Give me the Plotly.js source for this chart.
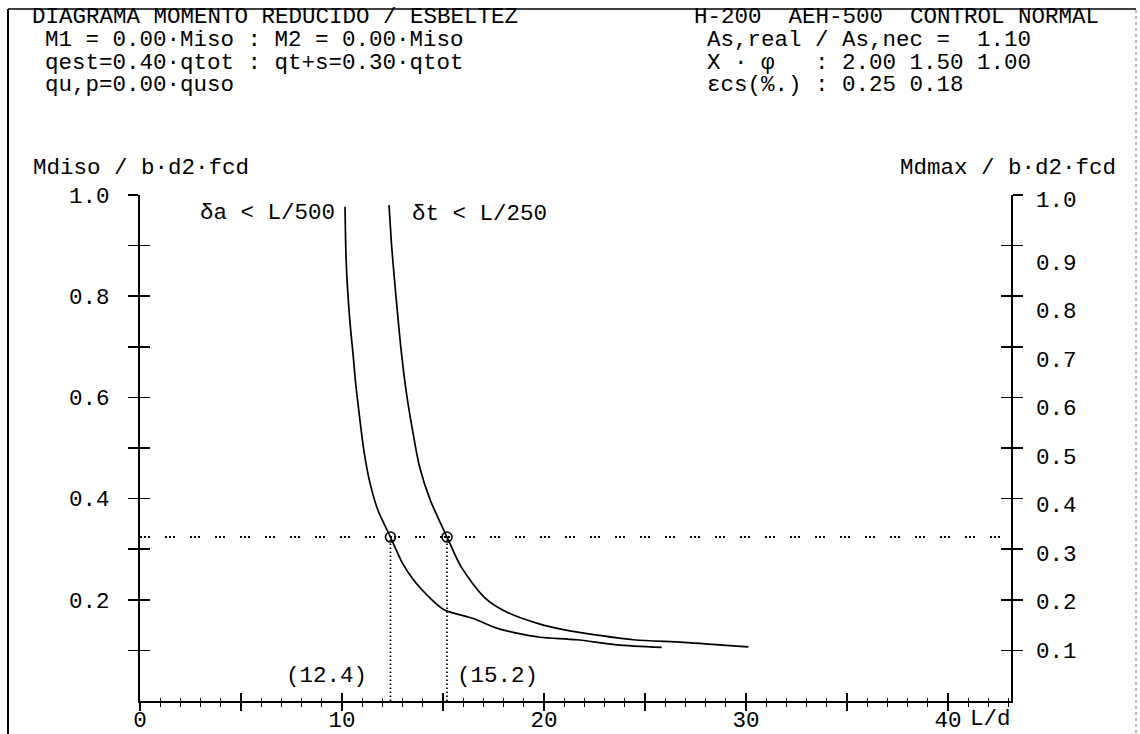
<!DOCTYPE html>
<html>
<head>
<meta charset="utf-8">
<script src="https://cdn.plot.ly/plotly-3.0.1.min.js"></script>
<style>html,body{margin:0;padding:0;background:#fff;}#chart{width:1140px;height:734px;}</style>
</head>
<body>
<div id="chart"></div>
<script>
// ---- data ----
const slendA  = [10.15, 10.20, 10.28, 10.36, 10.43, 10.56, 10.66, 10.77, 11.08, 11.39, 11.78, 12.4, 13.0, 13.6, 14.22, 15.03, 16.50, 17.66, 18.65, 19.80, 21.62, 23.60, 25.83];
const momentA = [0.977, 0.878, 0.812, 0.766, 0.733, 0.680, 0.634, 0.595, 0.496, 0.430, 0.377, 0.324, 0.272, 0.236, 0.209, 0.181, 0.163, 0.144, 0.134, 0.126, 0.121, 0.111, 0.106];
const slendT  = [12.33, 12.46, 12.60, 12.75, 12.91, 13.08, 13.24, 13.52, 13.84, 14.37, 15.2, 15.90, 17.10, 18.20, 19.80, 20.96, 21.67, 24.42, 26.90, 30.12];
const momentT = [0.980, 0.898, 0.832, 0.766, 0.700, 0.641, 0.595, 0.529, 0.463, 0.397, 0.324, 0.265, 0.203, 0.175, 0.152, 0.141, 0.136, 0.121, 0.116, 0.107];
const targetMoment = 0.324;
const intersections = [12.4, 15.2];
const intersectionLabels = ['(12.4)', '(15.2)'];
const curveLabels = ['δa < L/500', 'δt < L/250'];
const xRange = [0, 43.12];
const xMajorTicks = [0, 5, 10, 15, 20, 25, 30, 35, 40];
const xMajorText  = ['0', '', '10', '', '20', '', '30', '', '40'];
const yTicks     = [0.1, 0.2, 0.3, 0.4, 0.5, 0.6, 0.7, 0.8, 0.9, 1.0];
const yLeftText  = ['', '0.2', '', '0.4', '', '0.6', '', '0.8', '', '1.0'];
const yRightVals = [0.1, 0.2, 0.3, 0.4, 0.5, 0.6, 0.7, 0.8, 0.9];
const yRightText = ['0.1', '0.2', '0.3', '0.4', '0.5', '0.6', '0.7', '0.8', '0.9'];
const headerLeft  = ['DIAGRAMA MOMENTO REDUCIDO / ESBELTEZ', 'M1 = 0.00·Miso : M2 = 0.00·Miso', 'qest=0.40·qtot : qt+s=0.30·qtot', 'qu,p=0.00·quso'];
const headerRight = ['H-200  AEH-500  CONTROL NORMAL', 'As,real / As,nec =  1.10', 'X · φ   : 2.00 1.50 1.00', 'εcs(%.) : 0.25 0.18'];
const yLeftTitle = 'Mdiso / b·d2·fcd';
const yRightTitle = 'Mdmax / b·d2·fcd';
const xTitle = 'L/d';

// ---- layout geometry ----
const W = 1140, H = 734;
const M = {l: 140, r: 129, t: 195, b: 33};
const PW = W - M.l - M.r, PH = H - M.t - M.b;
const px = x => (x - M.l) / PW;          // pixel -> paper x
const py = y => (H - M.b - y) / PH;      // pixel -> paper y
const FONT = '"Liberation Mono", "DejaVu Sans Mono", monospace';
const FS = 22.5;
const f = (s) => ({family: FONT, size: s || FS, color: '#000'});

// the right-hand labels of the original sit on a slightly compressed scale
const rLo = 0.1 - (H - M.b - 650) / 485.4;
const rHi = 0.1 + (650 - M.t) / 485.4;

const traces = [
  {x: slendA, y: momentA, mode: 'lines', line: {color: '#000', width: 1.7, shape: 'spline', smoothing: 0.8}, hoverinfo: 'skip'},
  {x: slendT, y: momentT, mode: 'lines', line: {color: '#000', width: 1.7, shape: 'spline', smoothing: 0.8}, hoverinfo: 'skip'},
  {x: [xRange[0], xRange[1]], y: [targetMoment, targetMoment], mode: 'lines',
   line: {color: '#000', width: 2, dash: '2px,2px,2px,2px,2px,15px'}, hoverinfo: 'skip'},
  {x: [intersections[0], intersections[0]], y: [0, targetMoment], mode: 'lines',
   line: {color: '#000', width: 1.7, dash: '1.5px,2.5px'}, hoverinfo: 'skip'},
  {x: [intersections[1], intersections[1]], y: [0, targetMoment], mode: 'lines',
   line: {color: '#000', width: 1.7, dash: '1.5px,2.5px'}, hoverinfo: 'skip'},
  {x: intersections, y: [targetMoment, targetMoment], mode: 'markers',
   marker: {symbol: 'circle-open', size: 10, color: '#000', line: {width: 1.6, color: '#000'}}, hoverinfo: 'skip'},
  // helper traces that make the overlay axes exist
  {x: [null], y: [null], xaxis: 'x2', yaxis: 'y', mode: 'markers', hoverinfo: 'skip'},
  {x: [null], y: [null], xaxis: 'x', yaxis: 'y3', mode: 'markers', hoverinfo: 'skip'},
  {x: [null], y: [null], xaxis: 'x', yaxis: 'y2', mode: 'markers', hoverinfo: 'skip'},
  {x: [null], y: [null], xaxis: 'x', yaxis: 'y4', mode: 'markers', hoverinfo: 'skip'}
];

const annotations = [];
const hdr = (t, x, y) => ({text: t, xref: 'paper', yref: 'paper', x: px(x), y: py(y),
  xanchor: 'left', yanchor: 'middle', showarrow: false, font: f(), height: 22, borderpad: 0, valign: 'middle'});
const rowsY = [17, 40, 62.5, 85];
headerLeft.forEach((t, i) => annotations.push(hdr(t, i === 0 ? 31 : 44, rowsY[i])));
headerRight.forEach((t, i) => annotations.push(hdr(t, i === 0 ? 693 : 706, rowsY[i])));
annotations.push({text: yLeftTitle, xref: 'paper', yref: 'paper', x: px(31), y: py(168),
  xanchor: 'left', yanchor: 'middle', showarrow: false, font: f()});
annotations.push({text: yRightTitle, xref: 'paper', yref: 'paper', x: px(1118), y: py(168),
  xanchor: 'right', yanchor: 'middle', showarrow: false, font: f()});
annotations.push({text: xTitle, xref: 'paper', yref: 'paper', x: px(968), y: py(719),
  xanchor: 'left', yanchor: 'middle', showarrow: false, font: f()});
annotations.push({text: curveLabels[0], xref: 'x', yref: 'paper', x: slendA[0], xshift: -8, y: py(213),
  xanchor: 'right', yanchor: 'middle', showarrow: false, font: f()});
annotations.push({text: curveLabels[1], xref: 'x', yref: 'paper', x: slendT[0], xshift: 21, y: py(214),
  xanchor: 'left', yanchor: 'middle', showarrow: false, font: f()});
annotations.push({text: intersectionLabels[0], xref: 'x', yref: 'paper', x: intersections[0], xshift: -21, y: py(676),
  xanchor: 'right', yanchor: 'middle', showarrow: false, font: f()});
annotations.push({text: intersectionLabels[1], xref: 'x', yref: 'paper', x: intersections[1], xshift: 8, y: py(676),
  xanchor: 'left', yanchor: 'middle', showarrow: false, font: f()});

const shapes = [
  {type: 'line', xref: 'paper', yref: 'paper', x0: px(8), x1: px(8), y0: py(745), y1: py(9), line: {color: '#000', width: 2}},
  {type: 'line', xref: 'paper', yref: 'paper', x0: px(8), x1: px(1136), y0: py(9), y1: py(9), line: {color: '#000', width: 1.5}},
  {type: 'line', xref: 'paper', yref: 'paper', x0: px(1136), x1: px(1136), y0: py(745), y1: py(9), line: {color: '#777', width: 1, dash: 'dot'}}
];

const axBase = {showgrid: false, zeroline: false, fixedrange: true};
const layout = {
  width: W, height: H, margin: M, paper_bgcolor: '#fff', plot_bgcolor: '#fff',
  showlegend: false, font: f(),
  xaxis: Object.assign({}, axBase, {
    range: xRange, showline: true, linecolor: '#000', linewidth: 2,
    tickmode: 'array', tickvals: xMajorTicks, ticktext: xMajorText,
    ticks: 'outside', ticklen: 8, tickwidth: 1.5, tickcolor: '#000', tickfont: f(), ticklabelstandoff: -11,
    minor: {tick0: 0, dtick: 1, ticks: 'outside', ticklen: 4, tickwidth: 1, tickcolor: '#000'}
  }),
  xaxis2: Object.assign({}, axBase, {
    range: xRange, overlaying: 'x', anchor: 'y', side: 'bottom', showline: false,
    tickmode: 'array', tickvals: xMajorTicks, ticks: 'inside', ticklen: 8, tickwidth: 1.5, tickcolor: '#000',
    showticklabels: false,
    minor: {tick0: 0, dtick: 1, ticks: 'inside', ticklen: 3, tickwidth: 1, tickcolor: '#000'}
  }),
  yaxis: Object.assign({}, axBase, {
    range: [0, 1], showline: true, linecolor: '#000', linewidth: 2, mirror: 'ticks',
    tickmode: 'array', tickvals: yTicks, ticktext: yLeftText,
    ticks: 'outside', ticklen: 10, tickwidth: 1.5, tickcolor: '#000', tickfont: f(), ticklabelstandoff: 14
  }),
  yaxis3: Object.assign({}, axBase, {
    range: [0, 1], overlaying: 'y', anchor: 'x', side: 'left', showline: true, linecolor: '#000', linewidth: 2, mirror: 'ticks',
    tickmode: 'array', tickvals: yTicks, ticks: 'inside', ticklen: 10, tickwidth: 1.5, tickcolor: '#000',
    showticklabels: false
  }),
  yaxis2: Object.assign({}, axBase, {
    range: [rLo, rHi], overlaying: 'y', anchor: 'x', side: 'right', showline: false,
    tickmode: 'array', tickvals: yRightVals, ticktext: yRightText, ticks: '',
    tickfont: f(), ticklabelstandoff: 24
  }),
  yaxis4: Object.assign({}, axBase, {
    range: [0, 1], overlaying: 'y', anchor: 'x', side: 'right', showline: false,
    tickmode: 'array', tickvals: [1.0], ticktext: ['1.0'], ticks: '',
    tickfont: f(), ticklabelstandoff: 24, ticklabelshift: 4
  }),
  annotations: annotations,
  shapes: shapes
};

Plotly.newPlot('chart', traces, layout, {staticPlot: true, displayModeBar: false});
</script>
</body>
</html>
